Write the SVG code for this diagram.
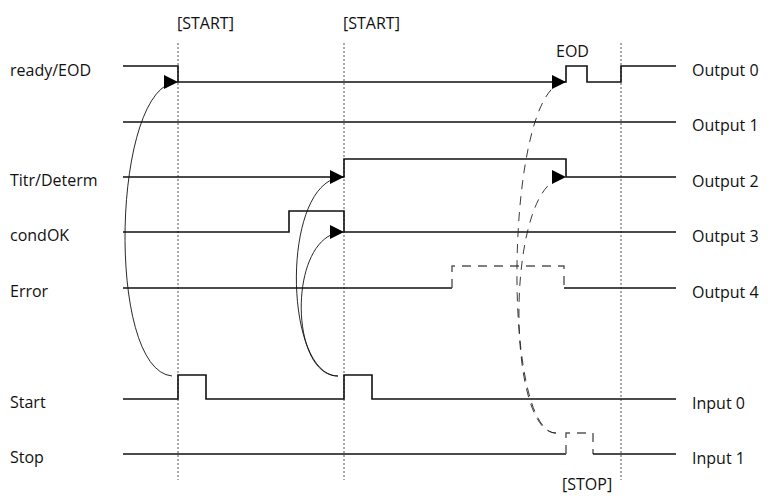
<svg xmlns="http://www.w3.org/2000/svg" width="770" height="497" viewBox="0 0 770 497">
<style>
text{font-family:"Open Sans","Noto Sans",sans-serif;font-size:16px;fill:#111}
.sig{fill:none;stroke:#111;stroke-width:1.6}
.dsig{fill:none;stroke:#555;stroke-width:1.4;stroke-dasharray:9,7}
.grid{stroke:#555;stroke-width:1;stroke-dasharray:2,2}
.cv{fill:none;stroke:#111;stroke-width:0.9}
.dcv{fill:none;stroke:#222;stroke-width:0.9;stroke-dasharray:9,7}
</style>
<defs>
<marker id="ah" viewBox="0 0 12 12" refX="12" refY="6" markerWidth="14" markerHeight="14" markerUnits="userSpaceOnUse" orient="auto">
<path d="M0,0L12,6L0,12z" fill="#000"/>
</marker>
</defs>
<g id="gridlines">
<line class="grid" x1="178" y1="43" x2="178" y2="480"/>
<line class="grid" x1="344" y1="43" x2="344" y2="480"/>
<line class="grid" x1="621" y1="43" x2="621" y2="480"/>
</g>
<g id="top-labels">
<text x="177" y="29">[START]</text>
<text x="343" y="29">[START]</text>
<text x="556" y="57">EOD</text>
<text x="562" y="490">[STOP]</text>
</g>
<g id="sig-ready">
<path class="sig" d="M123,66H178V82H566V66H587V82H621V66H676"/>
<text x="10" y="76">ready/EOD</text>
<text x="692" y="76">Output 0</text>
</g>
<g id="sig-out1">
<path class="sig" d="M123,122H676"/>
<text x="692" y="131">Output 1</text>
</g>
<g id="sig-titr">
<path class="sig" d="M123,177H344V159H566V177H676"/>
<text x="10" y="186">Titr/Determ</text>
<text x="692" y="187">Output 2</text>
</g>
<g id="sig-cond">
<path class="sig" d="M123,232H289V211H344V232H676"/>
<text x="10" y="241">condOK</text>
<text x="692" y="242">Output 3</text>
</g>
<g id="sig-error">
<path class="sig" d="M123,288H452"/>
<path class="dsig" d="M452,288V266H564V288"/>
<path class="sig" d="M564,288H676"/>
<text x="10" y="297">Error</text>
<text x="692" y="298">Output 4</text>
</g>
<g id="sig-start">
<path class="sig" d="M123,399H178V375H206V399H344V375H372V399H676"/>
<text x="10" y="408">Start</text>
<text x="692" y="409">Input 0</text>
</g>
<g id="sig-stop">
<path class="sig" d="M123,454H566"/>
<path class="dsig" d="M566,454V433H593V454"/>
<path class="sig" d="M593,454H676"/>
<text x="10" y="463">Stop</text>
<text x="692" y="464">Input 1</text>
</g>
<g id="connectors">
<path class="cv" d="M172,376C105,370 112,82 178,82" marker-end="url(#ah)"/>
<path class="cv" d="M338,376C283,376 280,177 344,177" marker-end="url(#ah)"/>
<path class="cv" d="M338,376C288,376 288,232 344,232" marker-end="url(#ah)"/>
<path class="dcv" d="M556,433C500,433 505,82 566,82" marker-end="url(#ah)"/>
<path class="dcv" d="M556,433C505,433 505,177 566,177" marker-end="url(#ah)"/>
</g>
</svg>
